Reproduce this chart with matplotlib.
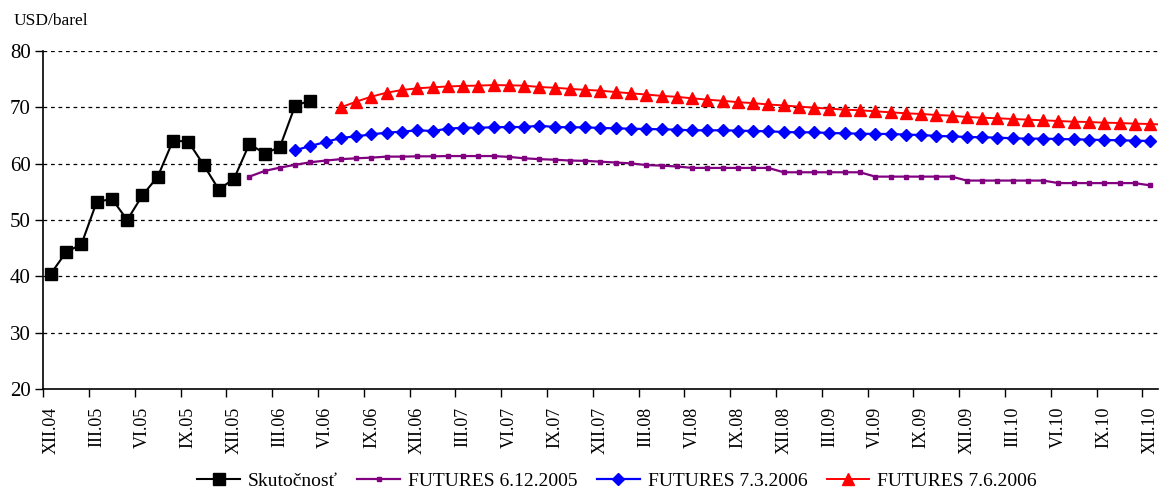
import numpy as np
import matplotlib
matplotlib.use("Agg")
import matplotlib.pyplot as plt

plt.rcParams['font.family'] = ['Liberation Serif', 'DejaVu Serif']

roman = ['I', 'II', 'III', 'IV', 'V', 'VI', 'VII', 'VIII', 'IX', 'X', 'XI', 'XII']
months = ['XII.04'] + [f"{r}.{y:02d}" for y in range(5, 11) for r in roman]

actual_start = 'XII.04'
actual = [40.5, 44.3, 45.7, 53.2, 53.75, 50.0, 54.4, 57.7, 64.1, 63.9, 59.8, 55.4,
          57.35, 63.5, 61.8, 62.95, 70.3, 71.2]

fut1_start = 'I.06'
fut1 = [57.7, 58.7, 59.3, 59.8, 60.25, 60.55, 60.8, 60.95, 61.07, 61.25, 61.25, 61.3,
        61.3, 61.35, 61.35, 61.35, 61.35, 61.2, 60.95, 60.8, 60.7, 60.55, 60.5, 60.35,
        60.2, 60.05, 59.75, 59.65, 59.5, 59.25, 59.24, 59.24, 59.24, 59.24, 59.24,
        58.47, 58.47, 58.47, 58.47, 58.47, 58.47, 57.7, 57.7, 57.7, 57.7, 57.7, 57.7,
        57.0, 57.0, 57.0, 57.0, 57.0, 57.0, 56.55, 56.55, 56.55, 56.55, 56.55, 56.55, 56.15]

fut2_start = 'IV.06'
fut2 = [62.37, 63.14, 63.85, 64.56, 64.85, 65.2, 65.5, 65.68, 65.92, 65.8, 66.2, 66.38,
        66.38, 66.45, 66.5, 66.5, 66.74, 66.5, 66.45, 66.45, 66.33, 66.27, 66.2, 66.15,
        66.1, 66.03, 65.92, 65.92, 65.92, 65.86, 65.8, 65.74, 65.62, 65.56, 65.56, 65.44,
        65.38, 65.32, 65.27, 65.27, 65.15, 65.09, 64.91, 64.85, 64.73, 64.68, 64.62, 64.5,
        64.44, 64.44, 64.38, 64.32, 64.26, 64.2, 64.15, 64.08, 64.03]

fut3_start = 'VII.06'
fut3 = [70.0, 71.0, 71.9, 72.6, 73.07, 73.37, 73.55, 73.7, 73.8, 73.85, 73.95, 73.9,
        73.85, 73.6, 73.48, 73.27, 73.1, 72.95, 72.71, 72.48, 72.27, 72.03, 71.86, 71.6,
        71.36, 71.15, 70.92, 70.74, 70.5, 70.33, 70.12, 69.94, 69.76, 69.58, 69.47, 69.29,
        69.11, 68.94, 68.82, 68.64, 68.51, 68.28, 68.16, 68.05, 67.93, 67.81, 67.69, 67.57,
        67.45, 67.39, 67.27, 67.22, 67.1, 67.04, 66.92]

labels = ['Skutočnosť', 'FUTURES 6.12.2005', 'FUTURES 7.3.2006', 'FUTURES 7.6.2006']
y_ticks = [20, 30, 40, 50, 60, 70, 80]
y_label = 'USD/barel'


def xs(start, vals):
    s = months.index(start)
    return np.arange(s, s + len(vals))


fig = plt.figure(figsize=(11.6, 4.9), dpi=100)
ax = fig.add_axes([0.0373, 0.206, 0.9607, 0.69])

ax.plot(xs(fut1_start, fut1), fut1, color='#800080', lw=1.6, marker='s', ms=3.2,
        label=labels[1], zorder=3)
ax.plot(xs(fut2_start, fut2), fut2, color='#0000FF', lw=1.6, marker='D', ms=6.5,
        label=labels[2], zorder=3)
ax.plot(xs(fut3_start, fut3), fut3, color='#FF0000', lw=1.4, marker='^', ms=8,
        label=labels[3], zorder=3)
ax.plot(xs(actual_start, actual), actual, color='black', lw=1.5, marker='s', ms=9,
        label=labels[0], zorder=4)

ax.set_ylim(20, 80)
ax.set_yticks(y_ticks)
ax.set_xlim(-0.5, len(months) - 0.5)

# tick marks at category boundaries, labels at category centres
ax.set_xticks(np.arange(-0.5, len(months), 3))
ax.set_xticklabels([])
ax.tick_params(axis='x', which='major', direction='out', length=6, width=1)
ax.set_xticks(np.arange(0, len(months), 3), minor=True)
ax.set_xticklabels(months[::3], minor=True, rotation=90, fontsize=13)
ax.tick_params(axis='x', which='minor', length=0, pad=13)
ax.tick_params(axis='y', direction='out', length=6, width=1, labelsize=15, pad=3)

for v in y_ticks[1:]:
    ax.axhline(v, color='black', lw=0.9, ls=(0, (3, 3)), zorder=1)

for s in ['top', 'right']:
    ax.spines[s].set_visible(False)
for s in ['left', 'bottom']:
    ax.spines[s].set_linewidth(1.2)

fig.text(0.012, 0.957, y_label, fontsize=12.5, ha='left', va='center')

handles, labs = ax.get_legend_handles_labels()
order = [3, 0, 1, 2]
fig.legend([handles[i] for i in order], [labs[i] for i in order], loc='lower center',
           bbox_to_anchor=(0.532, -0.035), ncol=4, frameon=False, fontsize=14,
           handlelength=2.2, columnspacing=1.0, handletextpad=0.4)

fig.savefig('out.png', dpi=100)
